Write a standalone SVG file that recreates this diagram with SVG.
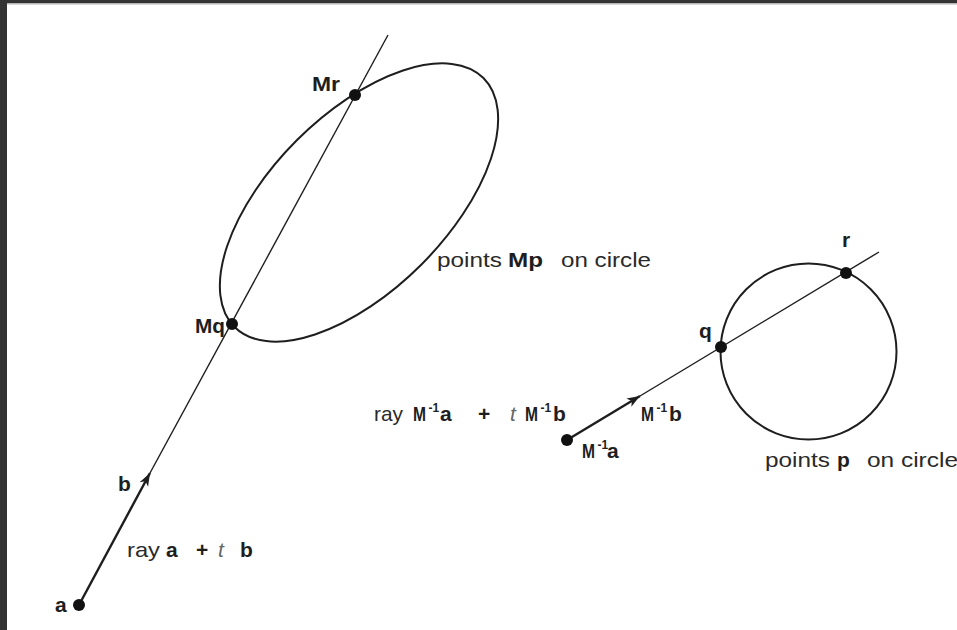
<svg xmlns="http://www.w3.org/2000/svg" width="957" height="630" viewBox="0 0 957 630">
<style>
text{font-family:"Liberation Sans",Arial,Helvetica,sans-serif;font-size:21px;fill:#2a2a2a}
.b{font-weight:bold;fill:#1e1e1e}
.i{font-style:italic;fill:#666}
.sup{font-size:12px;font-weight:bold;fill:#1e1e1e}
.thin{fill:none;stroke:#1e1e1e;stroke-width:1.4}
.thick{fill:none;stroke:#1e1e1e;stroke-width:2.4}
.curve{fill:none;stroke:#1e1e1e;stroke-width:2}
.dot{fill:#111}
</style>
<defs>
<marker id="arr" viewBox="-14 -6 15 12" markerWidth="15" markerHeight="12" refX="0" refY="0" orient="auto" markerUnits="userSpaceOnUse">
<path d="M0,0 L-13,-4.8 L-9.5,0 L-13,4.8 Z" fill="#1e1e1e"/>
</marker>
</defs>
<rect x="0" y="0" width="957" height="630" fill="#ffffff"/>
<rect x="0" y="0" width="957" height="3" fill="#333333"/>
<rect x="0" y="3" width="957" height="1.5" fill="#b5b5b5"/>
<rect x="0" y="0" width="7" height="630" fill="#333333"/>

<g id="shapes">
<ellipse id="ellipse-Mp" cx="359" cy="202.5" rx="176" ry="88" transform="rotate(-45 359 202.5)" class="curve"/>
<circle id="circle-p" cx="808.5" cy="351.5" r="88" class="curve"/>
</g>

<g id="connectors">
<path d="M79,605 L150,473" class="thick" marker-end="url(#arr)"/>
<path d="M150,473 L388,35" class="thin"/>
<path d="M567,440 L640,396" class="thick" marker-end="url(#arr)"/>
<path d="M640,396 L879,252" class="thin"/>
</g>

<g id="node-a">
<circle cx="79" cy="605" r="6" class="dot"/>
<text x="55" y="612" class="b">a</text>
</g>
<g id="node-Mq">
<circle cx="232" cy="324" r="6" class="dot"/>
<text x="195" y="333" class="b" textLength="30" lengthAdjust="spacingAndGlyphs">Mq</text>
</g>
<g id="node-Mr">
<circle cx="355" cy="95" r="6" class="dot"/>
<text x="312" y="91" class="b" textLength="28" lengthAdjust="spacingAndGlyphs">Mr</text>
</g>
<g id="node-M1a">
<circle cx="567" cy="440" r="6" class="dot"/>
<text y="458"><tspan x="582" class="b" textLength="13" lengthAdjust="spacingAndGlyphs">M</tspan><tspan x="597.5" y="449" class="sup">-1</tspan><tspan x="607" y="458" class="b">a</tspan></text>
</g>
<g id="node-q">
<circle cx="721" cy="347" r="6" class="dot"/>
<text x="699" y="338" class="b">q</text>
</g>
<g id="node-r">
<circle cx="846" cy="273" r="6" class="dot"/>
<text x="842" y="247" class="b">r</text>
</g>

<g id="labels">
<text x="118" y="491" class="b">b</text>
<text y="557"><tspan x="127" textLength="33" lengthAdjust="spacingAndGlyphs">ray</tspan><tspan x="166" class="b">a</tspan><tspan x="196" class="b">+</tspan><tspan x="218" class="i">t</tspan><tspan x="240" class="b">b</tspan></text>

<text y="421"><tspan x="374" textLength="29" lengthAdjust="spacingAndGlyphs">ray</tspan><tspan x="413" class="b" textLength="13" lengthAdjust="spacingAndGlyphs">M</tspan><tspan x="428.5" y="412" class="sup">-1</tspan><tspan x="440" y="421" class="b">a</tspan><tspan x="478" class="b">+</tspan><tspan x="510" class="i">t</tspan><tspan x="525" class="b" textLength="13" lengthAdjust="spacingAndGlyphs">M</tspan><tspan x="540.5" y="412" class="sup">-1</tspan><tspan x="553" y="421" class="b">b</tspan></text>

<text y="421"><tspan x="641" class="b" textLength="13" lengthAdjust="spacingAndGlyphs">M</tspan><tspan x="656.5" y="412" class="sup">-1</tspan><tspan x="669" y="421" class="b">b</tspan></text>

<text y="267"><tspan x="437" textLength="65" lengthAdjust="spacingAndGlyphs">points</tspan><tspan x="508" class="b" textLength="35" lengthAdjust="spacingAndGlyphs">Mp</tspan><tspan x="561" textLength="90" lengthAdjust="spacingAndGlyphs">on circle</tspan></text>

<text y="467"><tspan x="765" textLength="65" lengthAdjust="spacingAndGlyphs">points</tspan><tspan x="837" class="b">p</tspan><tspan x="867" textLength="91" lengthAdjust="spacingAndGlyphs">on circle</tspan></text>
</g>
</svg>
